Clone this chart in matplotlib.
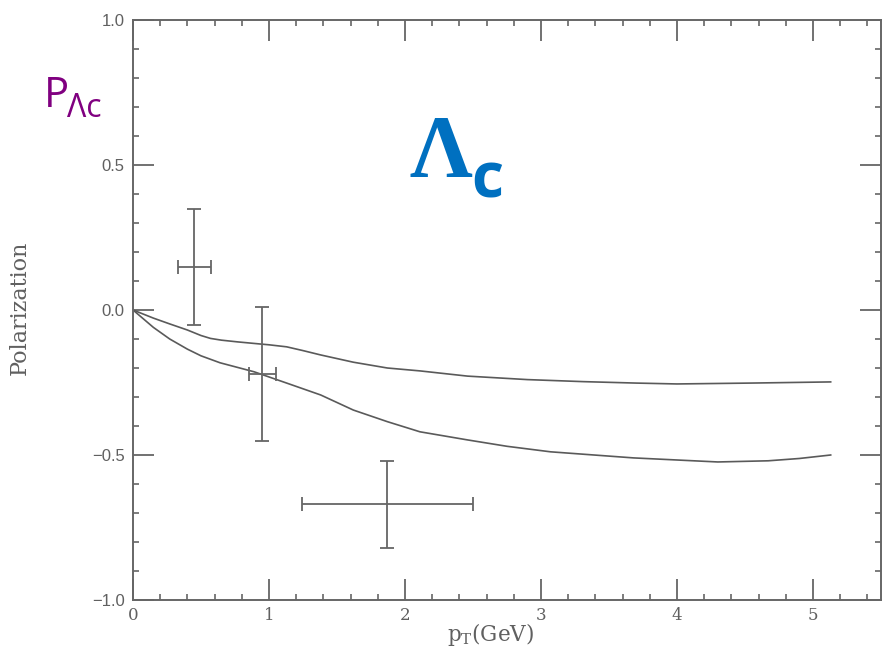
import matplotlib
matplotlib.use("Agg")
import matplotlib.pyplot as plt
from matplotlib.ticker import MultipleLocator

# ---- data ----
upper_x = [0, 0.15, 0.27, 0.4, 0.5, 0.57, 0.65, 0.77, 0.93, 1.0, 1.13, 1.25, 1.38, 1.62, 1.87, 2.11, 2.46, 2.9, 3.31, 3.7, 4.0, 4.54, 5.13]
upper_y = [0, -0.028, -0.048, -0.069, -0.088, -0.098, -0.104, -0.11, -0.117, -0.12, -0.127, -0.14, -0.155, -0.18, -0.2, -0.21, -0.228, -0.24, -0.247, -0.252, -0.255, -0.252, -0.248]

lower_x = [0, 0.15, 0.27, 0.4, 0.5, 0.64, 0.89, 1.13, 1.38, 1.62, 1.87, 2.11, 2.46, 2.75, 3.07, 3.68, 4.3, 4.67, 4.9, 5.13]
lower_y = [0, -0.06, -0.1, -0.135, -0.158, -0.182, -0.213, -0.252, -0.293, -0.345, -0.385, -0.42, -0.448, -0.47, -0.489, -0.51, -0.524, -0.52, -0.512, -0.50]

data_x = [0.45, 0.95, 1.87]
data_y = [0.15, -0.22, -0.67]
data_xerr = [0.12, 0.10, 0.63]
data_yerr = [0.20, 0.23, 0.15]

xticks = [0, 1, 2, 3, 4, 5]
yticks = [-1.0, -0.5, 0.0, 0.5, 1.0]
ytick_labels = ["\u22121.0", "\u22120.5", "0.0", "0.5", "1.0"]

W, H = 885, 648
fig = plt.figure(figsize=(W / 100, H / 100), dpi=100)
ax = fig.add_axes([133 / W, 1 - 600 / H, (881 - 133) / W, (600 - 20) / H])

grey = "#5a5a5a"
ax.plot(upper_x, upper_y, color=grey, lw=1.2)
ax.plot(lower_x, lower_y, color=grey, lw=1.2)
ax.errorbar(data_x, data_y, xerr=data_xerr, yerr=data_yerr, fmt="none",
            ecolor="#666666", elinewidth=1.3, capsize=5, capthick=1.3)

ax.set_xlim(0, 5.5)
ax.set_ylim(-1.0, 1.0)
ax.set_xticks(xticks)
ax.set_yticks(yticks)
ax.set_yticklabels(ytick_labels)
ax.xaxis.set_minor_locator(MultipleLocator(0.2))
ax.yaxis.set_minor_locator(MultipleLocator(0.1))
ax.tick_params(which="both", direction="in", top=True, right=True, colors="#666666",
               labelcolor="#606060")
ax.tick_params(which="major", length=15, width=1.3)
ax.tick_params(which="minor", length=4.5, width=1.2)
ax.tick_params(axis="x", pad=5, labelsize=12)
ax.tick_params(axis="y", pad=6, labelsize=12)
for lab in ax.get_xticklabels():
    lab.set_family("DejaVu Serif")
for lab in ax.get_yticklabels():
    lab.set_family("Liberation Sans")
for s in ax.spines.values():
    s.set_color("#666666")
    s.set_linewidth(1.4)

plt.rcParams["mathtext.fontset"] = "dejavuserif"
fig.text(20 / W, 1 - 308 / H, "Polarization", rotation=90, ha="center", va="center",
         family="DejaVu Serif", fontsize=16, color="#606060")
fig.text(491 / W, 1 - 634 / H, r"p$_{\mathrm{T}}$(GeV)", ha="center", va="center",
         family="DejaVu Serif", fontsize=15.5, color="#606060")

purple = "#800080"
fig.text(44 / W, 1 - 107 / H, "P", ha="left", va="baseline", family="Open Sans",
         fontsize=30, color=purple)
fig.text(67 / W, 1 - 117 / H, "\u039bc", ha="left", va="baseline", family="Open Sans",
         fontsize=23, color=purple)

blue = "#0070c0"
fig.text(409 / W, 1 - 176 / H, "\u039b", ha="left", va="baseline", family="Liberation Serif",
         weight="bold", fontsize=63, color=blue)
fig.text(471 / W, 1 - 197 / H, "c", ha="left", va="baseline", family="Open Sans",
         weight="bold", fontsize=45, color=blue)

fig.savefig("out.png", dpi=100)
